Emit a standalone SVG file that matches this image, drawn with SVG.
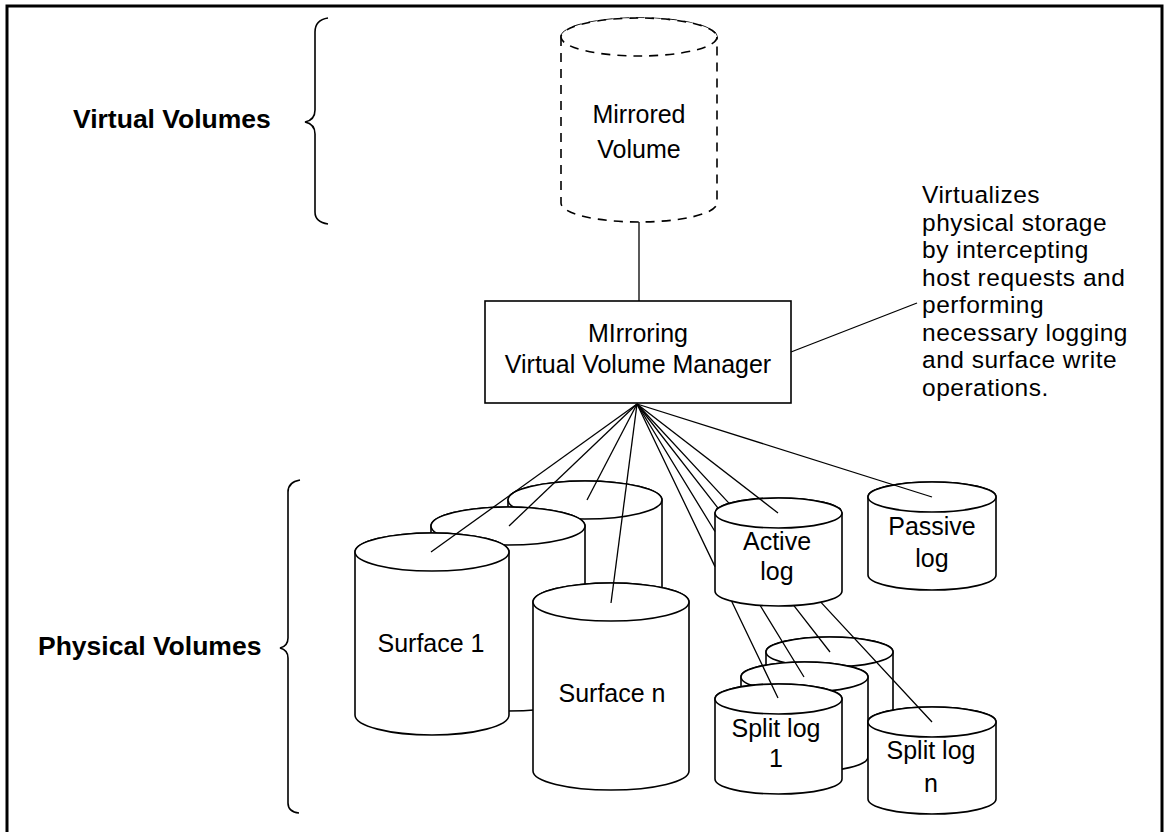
<svg xmlns="http://www.w3.org/2000/svg" width="1168" height="832" viewBox="0 0 1168 832">
<style>
.cyl{fill:#fff;stroke:#000;stroke-width:1.6}
.dash{fill:#fff;stroke:#000;stroke-width:1.6;stroke-dasharray:9 7}
.ln{fill:none;stroke:#000;stroke-width:1.3}
.t{font-family:"Liberation Sans",Arial,sans-serif;font-size:25px;fill:#000;text-anchor:middle}
.b{font-family:"Liberation Sans",Arial,sans-serif;font-size:26.5px;font-weight:bold;fill:#000}
.a{font-family:"Liberation Sans",Arial,sans-serif;font-size:24.5px;letter-spacing:0.5px;fill:#000}
.br{fill:none;stroke:#000;stroke-width:1.6}
</style>
<rect x="0" y="0" width="1168" height="832" fill="#fff"/>
<rect x="7" y="6" width="1155" height="840" fill="none" stroke="#000" stroke-width="3"/>

<g id="virtual-label">
<text class="b" x="73" y="128">Virtual Volumes</text>
<path class="br" d="M328,18 Q315,20 315,32 L315,110 Q315,120 305,122 Q315,124 315,134 L315,212 Q315,222 328,224"/>
</g>
<g id="physical-label">
<text class="b" x="38" y="655">Physical Volumes</text>
<path class="br" d="M300,480 Q288,482 288,492 L288,638 Q288,646 280,648 Q288,650 288,658 L288,803 Q288,812 299,813"/>
</g>

<g id="mirrored-volume">
<path class="dash" d="M561,37 L561,203 A78,19 0 0 0 717,203 L717,37 A78,19 0 0 0 561,37 Z"/>
<ellipse class="dash" cx="639" cy="37" rx="78" ry="19"/>
<text class="t" x="639" y="123">Mirrored</text>
<text class="t" x="639" y="158">Volume</text>
</g>

<g id="manager">
<rect x="485" y="301" width="306" height="102" fill="#fff" stroke="#000" stroke-width="1.6"/>
<text class="t" x="638" y="342">MIrroring</text>
<text class="t" x="638" y="373">Virtual Volume Manager</text>
</g>

<g id="annotation">
<text class="a" x="922" y="203">Virtualizes</text>
<text class="a" x="922" y="230.5">physical storage</text>
<text class="a" x="922" y="258">by intercepting</text>
<text class="a" x="922" y="285.5">host requests and</text>
<text class="a" x="922" y="313">performing</text>
<text class="a" x="922" y="340.5">necessary logging</text>
<text class="a" x="922" y="368">and surface write</text>
<text class="a" x="922" y="395.5">operations.</text>
</g>

<g id="surface-back">
<path class="cyl" d="M508,500 L508,664 A77,19 0 0 0 662,664 L662,500 A77,19 0 0 0 508,500 Z"/>
<ellipse class="cyl" cx="585" cy="500" rx="77" ry="19"/>
</g>
<g id="surface-middle">
<path class="cyl" d="M431,526 L431,692 A77,19 0 0 0 585,692 L585,526 A77,19 0 0 0 431,526 Z"/>
<ellipse class="cyl" cx="508" cy="526" rx="77" ry="19"/>
</g>
<g id="surface-1">
<path class="cyl" d="M355,552 L355,715 A77,20 0 0 0 509,715 L509,552 A77,19 0 0 0 355,552 Z"/>
<ellipse class="cyl" cx="432" cy="552" rx="77" ry="19"/>
<text class="t" x="431" y="652">Surface 1</text>
</g>
<g id="surface-n">
<path class="cyl" d="M533,602 L533,771 A78,19 0 0 0 689,771 L689,602 A78,19 0 0 0 533,602 Z"/>
<ellipse class="cyl" cx="611" cy="602" rx="78" ry="19"/>
<text class="t" x="612" y="702">Surface n</text>
</g>

<g id="split-back">
<path class="cyl" d="M766,652 L766,732 A63.5,15 0 0 0 893,732 L893,652 A63.5,15 0 0 0 766,652 Z"/>
<ellipse class="cyl" cx="829.5" cy="652" rx="63.5" ry="15"/>
</g>
<g id="split-middle">
<path class="cyl" d="M741,677 L741,757 A63.5,15 0 0 0 868,757 L868,677 A63.5,15 0 0 0 741,677 Z"/>
<ellipse class="cyl" cx="804.5" cy="677" rx="63.5" ry="15"/>
</g>
<g id="split-log-1">
<path class="cyl" d="M715,699 L715,779 A63.5,15 0 0 0 842,779 L842,699 A63.5,15 0 0 0 715,699 Z"/>
<ellipse class="cyl" cx="778.5" cy="699" rx="63.5" ry="15"/>
<text class="t" x="776" y="737">Split log</text>
<text class="t" x="776" y="767">1</text>
</g>
<g id="split-log-n">
<path class="cyl" d="M868,722 L868,799 A64,15 0 0 0 996,799 L996,722 A64,15 0 0 0 868,722 Z"/>
<ellipse class="cyl" cx="932" cy="722" rx="64" ry="15"/>
<text class="t" x="931" y="759">Split log</text>
<text class="t" x="931" y="792">n</text>
</g>
<g id="passive-log">
<path class="cyl" d="M868,497 L868,575 A64,15 0 0 0 996,575 L996,497 A64,15 0 0 0 868,497 Z"/>
<ellipse class="cyl" cx="932" cy="497" rx="64" ry="15"/>
<text class="t" x="932" y="535">Passive</text>
<text class="t" x="932" y="567">log</text>
</g>
<g id="active-log">
<path class="cyl" d="M715,513 L715,591 A63.5,15 0 0 0 842,591 L842,513 A63.5,15 0 0 0 715,513 Z"/>
<ellipse class="cyl" cx="778.5" cy="513" rx="63.5" ry="15"/>
<text class="t" x="777" y="550">Active</text>
<text class="t" x="777" y="580">log</text>
</g>

<g id="connectors">
<path class="ln" d="M639,222 L639,301"/>
<path class="ln" d="M791,352 L917,303"/>
<path class="ln" d="M637,404 L431,552"/>
<path class="ln" d="M637,404 L509,526"/>
<path class="ln" d="M637,404 L587,500"/>
<path class="ln" d="M637,404 L611,603"/>
<path class="ln" d="M637,404 L778,513"/>
<path class="ln" d="M637,404 L932,497"/>
<path class="ln" d="M637,404 L715,566.6 M731.5,601 L778,698"/>
<path class="ln" d="M637,404 L715,531.5 M760.2,605.5 L804,677"/>
<path class="ln" d="M637,404 L718,508.2 M793.9,605.6 L830,652"/>
<path class="ln" d="M637,404 L729.6,503.9 M820.8,602.1 L932,722"/>
</g>
</svg>
